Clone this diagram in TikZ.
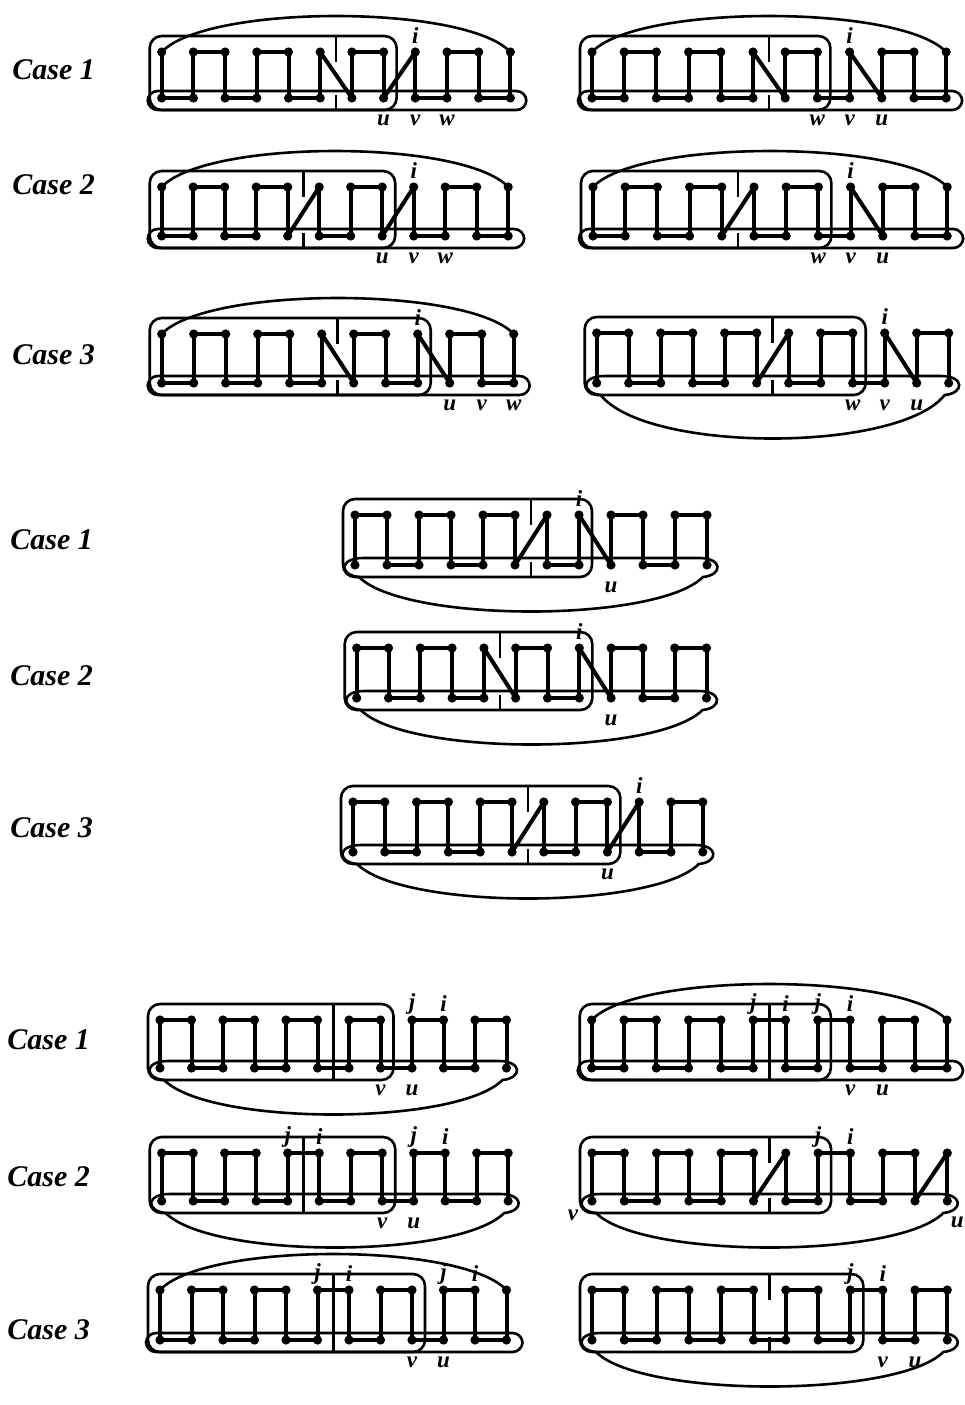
\documentclass[tikz,border=0pt]{standalone}
\usepackage{fontspec}
\setmainfont{Liberation Serif}
\usetikzlibrary{calc}
\tikzset{
 dot/.style={circle,fill=black,inner sep=0pt,minimum size=4.6pt},
 edge/.style={line width=2pt,line cap=round},
 ln/.style={line width=1.3pt},
 lab/.style={font=\bfseries\itshape\fontsize{11.5}{11.5}\selectfont, inner sep=0pt},
 case/.style={font=\bfseries\itshape\fontsize{15}{15}\selectfont, inner sep=0pt, anchor=west},
}
\newcommand\mkg[5]{\foreach \k in {0,...,11}{\node[dot] (#1t\k) at ({#2+\k*#3},#4) {}; \node[dot] (#1b\k) at ({#2+\k*#3},#5) {};}}
\newcommand\gV[2]{\foreach \k in {#2}{\draw[edge] (#1t\k.center) -- (#1b\k.center);}}
\newcommand\gT[2]{\foreach \p/\q in {#2}{\draw[edge] (#1t\p.center) -- (#1t\q.center);}}
\newcommand\gB[2]{\foreach \p/\q in {#2}{\draw[edge] (#1b\p.center) -- (#1b\q.center);}}
\newcommand\gD[2]{\foreach \p/\q in {#2}{\draw[edge] (#1t\p.center) -- (#1b\q.center);}}
\newcommand\gR[2]{\draw[ln,rounded corners=6pt] ($(#1t0)+(-12,-16)$) rectangle ($(#1b#2)+(13,12)$);}
\newcommand\gF[1]{\draw[ln,rounded corners=5pt] ($(#1b0)+(-14,-7)$) rectangle ($(#1b11)+(16,12)$);}
\newcommand\gS[2]{\draw[ln] ($(#1b0)+(8,-7)$) -- ($(#1b11)+(-8,-7)$) .. controls ($(#1b11)+(16,-7)$) and ($(#1b11)+(16,10)$) .. ($(#1b11)+(-4,12)$) .. controls ($(#1b11)+(-50,#2)$) and ($(#1b0)+(50,#2)$) .. ($(#1b0)+(4,12)$) .. controls ($(#1b0)+(-16,10)$) and ($(#1b0)+(-16,-7)$) .. cycle;}
\newcommand\gA[1]{\draw[ln] (#1t0.center) .. controls ($(#1t0)+(45,-48)$) and ($(#1t11)+(-45,-48)$) .. (#1t11.center);}
\newcommand\gDt[3]{\draw[ln] ($(#1t#2)!0.5!(#1t#3)+(0,-16)$) -- ($(#1t#2)!0.5!(#1t#3)+(0,10)$); \draw[ln] ($(#1b#2)!0.5!(#1b#3)+(0,-3)$) -- ($(#1b#2)!0.5!(#1b#3)+(0,12)$);}
\newcommand\gDf[3]{\draw[ln] ($(#1t#2)!0.5!(#1t#3)+(0,-16)$) -- ($(#1b#2)!0.5!(#1b#3)+(0,12)$);}
\newcommand\LT[3]{\node[lab] (#1t#2l) at ($(#1t#2)+(0,-16)$) {#3};}
\newcommand\LB[3]{\node[lab] (#1b#2l) at ($(#1b#2)+(0,22)$) {#3};}
\begin{document}
\begin{tikzpicture}[x=0.5pt,y=-0.5pt]
\useasboundingbox (0,0) rectangle (965,1405);
% case labels
\node[case] (c1a) at (12,70) {Case 1};
\node[case] (c2a) at (12,185) {Case 2};
\node[case] (c3a) at (12,355) {Case 3};
\node[case] (c1b) at (10,540) {Case 1};
\node[case] (c2b) at (10,676) {Case 2};
\node[case] (c3b) at (10,828) {Case 3};
\node[case] (c1c) at (7,1040) {Case 1};
\node[case] (c2c) at (7,1177) {Case 2};
\node[case] (c3c) at (7,1330) {Case 3};
% ---------- Section 1
\mkg{A1}{161.7}{31.7}{52}{98}
\gA{A1}\gR{A1}{7}\gF{A1}\gDt{A1}{5}{6}
\gV{A1}{0,...,11}\gT{A1}{1/2,3/4,6/7,9/10}\gB{A1}{0/1,2/3,4/5,8/9,10/11}\gD{A1}{5/6,8/7}
\LT{A1}{8}{i}\LB{A1}{7}{u}\LB{A1}{8}{v}\LB{A1}{9}{w}
\mkg{A2}{592}{32.2}{52}{98}
\gA{A2}\gR{A2}{7}\gF{A2}\gDt{A2}{5}{6}
\gV{A2}{0,...,11}\gT{A2}{1/2,3/4,6/7,9/10}\gB{A2}{0/1,2/3,4/5,7/8,10/11}\gD{A2}{5/6,8/9}
\LT{A2}{8}{i}\LB{A2}{7}{w}\LB{A2}{8}{v}\LB{A2}{9}{u}
\mkg{A3}{161.7}{31.5}{187}{236}
\gA{A3}\gR{A3}{7}\gF{A3}\gDt{A3}{4}{5}
\gV{A3}{0,...,11}\gT{A3}{1/2,3/4,6/7,9/10}\gB{A3}{0/1,2/3,5/6,8/9,10/11}\gD{A3}{5/4,8/7}
\LT{A3}{8}{i}\LB{A3}{7}{u}\LB{A3}{8}{v}\LB{A3}{9}{w}
\mkg{A4}{593}{32.2}{187}{236}
\gA{A4}\gR{A4}{7}\gF{A4}\gDt{A4}{4}{5}
\gV{A4}{0,...,11}\gT{A4}{1/2,3/4,6/7,9/10}\gB{A4}{0/1,2/3,5/6,7/8,10/11}\gD{A4}{5/4,8/9}
\LT{A4}{8}{i}\LB{A4}{7}{w}\LB{A4}{8}{v}\LB{A4}{9}{u}
\mkg{A5}{161.7}{32}{334}{383}
\gA{A5}\gR{A5}{8}\gF{A5}\gDt{A5}{5}{6}
\gV{A5}{0,...,11}\gT{A5}{1/2,3/4,6/7,9/10}\gB{A5}{0/1,2/3,4/5,7/8,10/11}\gD{A5}{5/6,8/9}
\LT{A5}{8}{i}\LB{A5}{9}{u}\LB{A5}{10}{v}\LB{A5}{11}{w}
\mkg{A6}{596.7}{32}{333}{383}
\gR{A6}{8}\gS{A6}{70}\gDt{A6}{5}{6}
\gV{A6}{0,...,11}\gT{A6}{0/1,2/3,4/5,7/8,10/11}\gB{A6}{1/2,3/4,6/7,8/9}\gD{A6}{6/5,9/10}
\LT{A6}{9}{i}\LB{A6}{8}{w}\LB{A6}{9}{v}\LB{A6}{10}{u}
% ---------- Section 2
\mkg{B1}{355}{32}{515}{565}
\gR{B1}{7}\gS{B1}{58}\gDt{B1}{5}{6}
\gV{B1}{0,...,11}\gT{B1}{0/1,2/3,4/5,8/9,10/11}\gB{B1}{1/2,3/4,6/7,9/10}\gD{B1}{6/5,7/8}
\LT{B1}{7}{i}\LB{B1}{8}{u}
\mkg{B2}{356.7}{31.8}{648}{698}
\gR{B2}{7}\gS{B2}{58}\gDt{B2}{4}{5}
\gV{B2}{0,...,11}\gT{B2}{0/1,2/3,5/6,8/9,10/11}\gB{B2}{1/2,3/4,6/7,9/10}\gD{B2}{4/5,7/8}
\LT{B2}{7}{i}\LB{B2}{8}{u}
\mkg{B3}{353}{31.8}{802}{852}
\gR{B3}{8}\gS{B3}{58}\gDt{B3}{5}{6}
\gV{B3}{0,...,11}\gT{B3}{0/1,2/3,4/5,7/8,10/11}\gB{B3}{1/2,3/4,6/7,9/10}\gD{B3}{6/5,9/8}
\LT{B3}{9}{i}\LB{B3}{8}{u}
% ---------- Section 3
\mkg{C1}{160}{31.5}{1020}{1068}
\gR{C1}{7}\gS{C1}{58}\gDf{C1}{5}{6}
\gV{C1}{0,...,11}\gT{C1}{0/1,2/3,4/5,6/7,8/9,10/11}\gB{C1}{1/2,3/4,5/6,7/8,9/10}
\LT{C1}{8}{j}\LT{C1}{9}{i}\LB{C1}{7}{v}\LB{C1}{8}{u}
\mkg{C2}{591.7}{32.3}{1020}{1068}
\gA{C2}\gR{C2}{7}\gF{C2}\gDf{C2}{5}{6}
\gV{C2}{0,...,11}\gT{C2}{1/2,3/4,5/6,7/8,9/10}\gB{C2}{0/1,2/3,4/5,6/7,8/9,10/11}
\LT{C2}{5}{j}\LT{C2}{6}{i}\LT{C2}{7}{j}\LT{C2}{8}{i}\LB{C2}{8}{v}\LB{C2}{9}{u}
\mkg{C3}{161.7}{31.5}{1153}{1201}
\gR{C3}{7}\gS{C3}{58}\gDf{C3}{4}{5}
\gV{C3}{0,...,11}\gT{C3}{0/1,2/3,4/5,6/7,8/9,10/11}\gB{C3}{1/2,3/4,5/6,7/8,9/10}
\LT{C3}{4}{j}\LT{C3}{5}{i}\LT{C3}{8}{j}\LT{C3}{9}{i}\LB{C3}{7}{v}\LB{C3}{8}{u}
\mkg{C4}{592}{32.3}{1153}{1201}
\gR{C4}{7}\gS{C4}{58}\gDt{C4}{5}{6}
\gV{C4}{0,...,11}\gT{C4}{0/1,2/3,4/5,7/8,9/10}\gB{C4}{1/2,3/4,6/7,8/9}\gD{C4}{6/5,11/10}
\LT{C4}{7}{j}\LT{C4}{8}{i}
\node[lab] (C4vl) at ($(C4b0)+(-19,14)$) {v};
\node[lab] (C4ul) at ($(C4b11)+(10,21)$) {u};
\mkg{C5}{160}{31.5}{1290}{1340}
\gA{C5}\gR{C5}{8}\gF{C5}\gDf{C5}{5}{6}
\gV{C5}{0,...,11}\gT{C5}{1/2,3/4,5/6,7/8,9/10}\gB{C5}{0/1,2/3,4/5,6/7,8/9,10/11}
\LT{C5}{5}{j}\LT{C5}{6}{i}\LT{C5}{9}{j}\LT{C5}{10}{i}\LB{C5}{8}{v}\LB{C5}{9}{u}
\mkg{C6}{592}{32.3}{1290}{1340}
\gR{C6}{8}\gS{C6}{58}\gDt{C6}{5}{6}
\gV{C6}{0,...,11}\gT{C6}{0/1,2/3,4/5,6/7,8/9,10/11}\gB{C6}{1/2,3/4,5/6,7/8,9/10}
\LT{C6}{8}{j}\LT{C6}{9}{i}\LB{C6}{9}{v}\LB{C6}{10}{u}
\end{tikzpicture}
\end{document}
